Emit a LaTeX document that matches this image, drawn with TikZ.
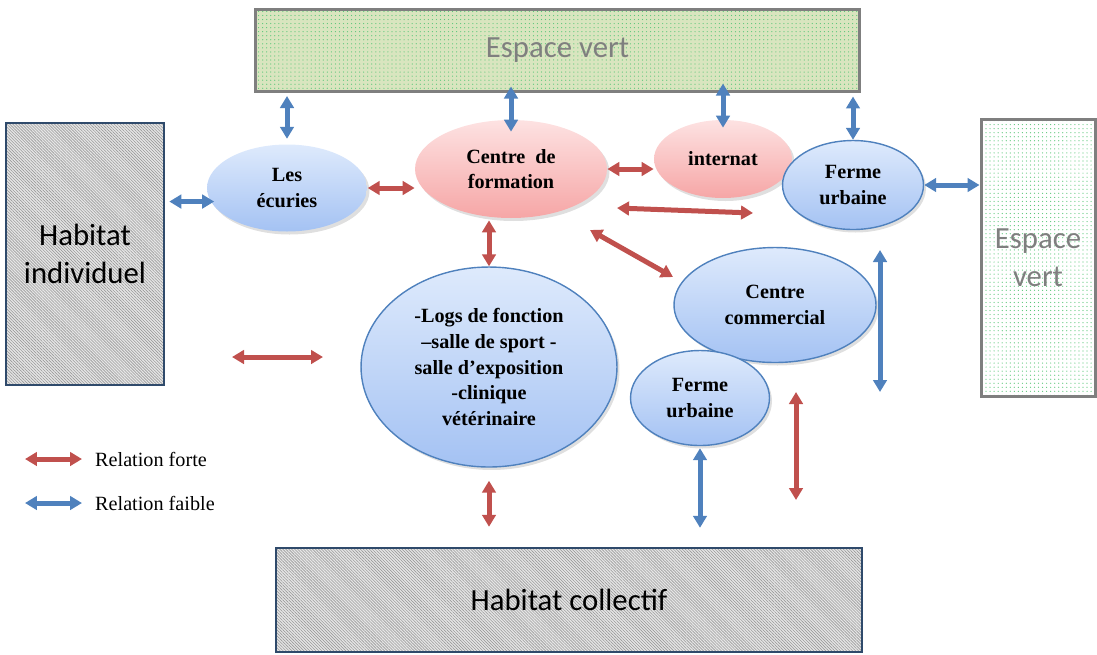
\documentclass[tikz,border=0pt]{standalone}
\usepackage{fontspec}
\setmainfont{Liberation Serif}
\newfontfamily\calibri{Carlito}
\usetikzlibrary{arrows.meta,shapes.geometric,patterns.meta,shadows}

\definecolor{rougeforte}{HTML}{C0504D}
\definecolor{bleufaible}{HTML}{4F81BD}
\definecolor{grisbord}{HTML}{7F7F7F}
\definecolor{bleufonce}{HTML}{2F4A6B}
\definecolor{vertpale}{HTML}{D9E5BF}
\definecolor{pointvert}{HTML}{5CC77A}
\definecolor{hachure}{HTML}{9A9A9A}
\definecolor{fondgris}{HTML}{E6E6E6}
\definecolor{bleuhaut}{HTML}{DEEAFC}
\definecolor{bleubas}{HTML}{A4C2F3}
\definecolor{rosehaut}{HTML}{FDE2E2}
\definecolor{rosebas}{HTML}{F6A6A6}

\tikzset{
  espacevert/.style={draw=grisbord, line width=0.06cm, preaction={fill=#1},
    pattern={Dots[distance=2.3pt,radius=0.35pt]}, pattern color=pointvert,
    text=grisbord, align=center, font=\calibri\fontsize{17.5}{21.5}\selectfont},
  habitat/.style={draw=bleufonce, line width=0.05cm, preaction={fill=fondgris},
    pattern={Lines[angle=-45,distance=1.2pt,line width=0.35pt]}, pattern color=hachure,
    align=center, font=\calibri\fontsize{17.5}{21.5}\selectfont},
  bulle/.style={ellipse, inner sep=0pt, align=center,
    font=\bfseries\fontsize{11.5}{14.7}\selectfont,
    drop shadow={shadow xshift=0.05cm, shadow yshift=-0.06cm, opacity=0.25}},
  bullebleue/.style={bulle, draw=bleufaible, line width=0.8pt, top color=bleuhaut, bottom color=bleubas},
  bullerose/.style={bulle, top color=rosehaut, bottom color=rosebas},
  forte/.style={draw=rougeforte, line width=0.1cm, <->},
  faible/.style={draw=bleufaible, line width=0.1cm, <->},
  legende/.style={anchor=west, font=\fontsize{11.5}{14}\selectfont}
}

\begin{document}
\begin{tikzpicture}[x=0.02cm, y=-0.02cm, >={Triangle[width=0.27cm,length=0.24cm]}]

\useasboundingbox (0,0) rectangle (1097,654);

% Rectangles
\node[espacevert=vertpale, minimum width=12.1cm, minimum height=1.64cm] (vertH) at (557.5,50) {Espace vert};
\node[espacevert=white, minimum width=2.28cm, minimum height=5.56cm] (vertD) at (1038,258) {Espace\\vert};
\node[habitat, minimum width=3.16cm, minimum height=5.24cm] (indiv) at (85,254) {Habitat\\individuel};
\node[habitat, minimum width=11.72cm, minimum height=2.08cm] (collectif) at (569,600) {Habitat collectif};

% Ellipses
\node[bullebleue, draw=none, minimum width=3.2cm, minimum height=1.74cm] (ecuries) at (287,188) {Les\\écuries};
\node[bullerose, minimum width=3.84cm, minimum height=1.96cm] (formation) at (511,169) {Centre\ \ de\\formation};
\node[bullerose, minimum width=2.76cm, minimum height=1.56cm] (internat) at (723,159) {internat};
\node[bullebleue, minimum width=2.82cm, minimum height=1.78cm] (fermeH) at (853,185) {Ferme\\urbaine};
\node[bullebleue, minimum width=5.12cm, minimum height=4cm] (logs) at (489,367) {-Logs de fonction\\–salle de sport -\\salle d’exposition\\-clinique\\vétérinaire};
\node[bullebleue, minimum width=4.04cm, minimum height=2.3cm] (commercial) at (775,305) {Centre\\commercial};
\node[bullebleue, minimum width=2.78cm, minimum height=1.9cm] (fermeB) at (700,398) {Ferme\\urbaine};

% Free ends
\coordinate (d1) at (590,230);
\coordinate (d2) at (673,277);
\coordinate (h1) at (617,208);
\coordinate (h2) at (753,213);
\coordinate (g1) at (232,357);
\coordinate (g2) at (323,357);
\coordinate (v1) at (880,250);
\coordinate (v2) at (880,392);
\coordinate (w1) at (796,392);
\coordinate (w2) at (796,500);

% Relations faibles
\draw[faible, shorten <=0.07cm, shorten >=0.1cm] (vertH.south -| ecuries.north) -- (ecuries.north);
\draw[faible, shorten <=-0.12cm, shorten >=-0.24cm] (vertH.south -| formation.north) -- (formation.north);
\draw[faible, shorten <=-0.18cm, shorten >=-0.16cm] (vertH.south -| internat.north) -- (internat.north);
\draw[faible, shorten <=0.08cm] (vertH.south -| fermeH.north) -- (fermeH.north);
\draw[faible, shorten <=0.1cm, shorten >=-0.08cm] (indiv.east |- ecuries.190) -- (ecuries.190);
\draw[faible] (fermeH.east) -- (fermeH.east -| vertD.west);
\draw[faible, shorten <=0.04cm, shorten >=0.38cm] (fermeB.south) -- (fermeB.south |- collectif.north);
\draw[faible] (v1) -- (v2);

% Relations fortes
\draw[forte] (ecuries.east) -- (ecuries.east -| formation.west);
\draw[forte] (formation.east) -- (formation.east -| internat.west);
\draw[forte, shorten <=0.04cm] (logs.north |- formation.south) -- (logs.north);
\draw[forte, shorten <=0.26cm, shorten >=0.4cm] (logs.south) -- (logs.south |- collectif.north);
\draw[forte] (d1) -- (d2);
\draw[forte] (h1) -- (h2);
\draw[forte] (g1) -- (g2);
\draw[forte] (w1) -- (w2);

% Legende
\node[legende] (txtforte) at (89,459) {Relation forte};
\node[legende] (txtfaible) at (89,503) {Relation faible};
\coordinate (lf) at (25,459);
\coordinate (lb) at (25,503);
\draw[forte, shorten >=0.14cm] (lf) -- (txtforte.west);
\draw[faible, shorten >=0.14cm] (lb) -- (txtfaible.west);

\end{tikzpicture}
\end{document}
